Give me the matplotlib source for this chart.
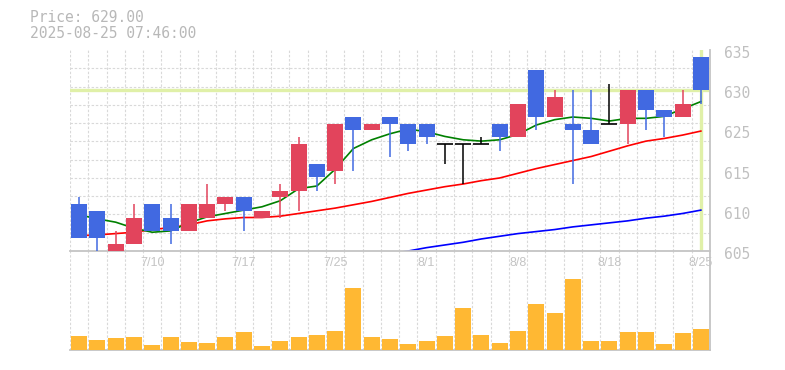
import matplotlib
matplotlib.use("Agg")
import matplotlib.pyplot as plt
import matplotlib.transforms as mtransforms
import numpy as np

# trading days shown (2025)
dates = ["7/4", "7/7", "7/8", "7/9", "7/10", "7/11", "7/14", "7/15", "7/16", "7/17",
         "7/18", "7/22", "7/23", "7/24", "7/25", "7/28", "7/29", "7/30", "7/31", "8/1",
         "8/4", "8/5", "8/6", "8/7", "8/8", "8/12", "8/13", "8/14", "8/15", "8/18",
         "8/19", "8/20", "8/21", "8/22", "8/25"]

opens  = [612, 611, 605, 606, 612, 610, 608, 610, 612, 613, 610, 613, 614, 618, 617, 625, 623, 625,
          624, 624, 621, 621, 621, 624, 622, 632, 625, 624, 623, 624, 624, 629, 626, 625, 634]
highs  = [613, 611, 608, 612, 612, 612, 612, 615, 613, 613, 611, 615, 622, 618, 624, 625, 624, 625,
          624, 624, 621, 621, 622, 624, 627, 632, 629, 629, 629, 630, 629, 629, 626, 629, 634]
lows   = [607, 605, 605, 606, 608, 606, 608, 610, 611, 608, 610, 610, 611, 614, 615, 617, 623, 619,
          620, 621, 618, 615, 621, 620, 622, 623, 625, 615, 621, 624, 621, 623, 622, 625, 627]
closes = [607, 607, 606, 610, 608, 608, 612, 612, 613, 611, 611, 614, 621, 616, 624, 623, 624, 624,
          621, 622, 621, 621, 621, 622, 627, 625, 628, 623, 621, 624, 629, 626, 625, 627, 629]

volumes = [1400, 1000, 1200, 1300, 500, 1300, 800, 700, 1300, 1800, 400, 900, 1300, 1500, 1900,
           6200, 1300, 1100, 600, 900, 1400, 4200, 1500, 700, 1900, 4600, 3700, 7100, 900, 900,
           1800, 1800, 600, 1700, 2100]

ma_short = [610.4, 609.8, 609.3, 608.4, 607.8, 608.0, 609.2, 610.1, 610.6, 611.1, 611.6, 612.5,
            614.3, 614.7, 617.2, 620.3, 621.6, 622.5, 623.2, 622.8, 622.1, 621.6, 621.4, 621.6,
            622.4, 623.8, 624.6, 625.0, 624.8, 624.4, 624.8, 624.8, 625.1, 626.2, 627.3]
ma_mid = [607.3, 607.4, 607.6, 607.8, 608.2, 608.5, 608.9, 609.5, 609.8, 610.0, 610.0, 610.2,
          610.6, 611.0, 611.4, 611.9, 612.4, 613.0, 613.6, 614.1, 614.6, 615.0, 615.5, 615.9,
          616.6, 617.3, 617.9, 618.5, 619.1, 619.9, 620.7, 621.4, 621.8, 622.3, 622.9]
ma_long = [np.nan] * 17 + [604.6, 605.0, 605.5, 605.9, 606.3, 606.8, 607.2, 607.6, 607.9, 608.2,
                           608.6, 608.9, 609.2, 609.5, 609.9, 610.2, 610.6, 611.1]

tick_idx = [4, 9, 14, 19, 24, 29, 34]
ytick_vals = [635, 629, 623, 617, 611, 605]
ytick_text = ["635", "630", "625", "615", "610", "605"]
price_now = 629.00
stamp = "2025-08-25 07:46:00"

UP = "#e2445c"
DOWN = "#4169e1"
GRID = "#d9d9d9"
SPINE = "#c4c4c4"

fig = plt.figure(figsize=(7.85, 3.7), dpi=100)
ax = fig.add_axes([70 / 785, 1 - 251 / 370, 640 / 785, 201 / 370])
axv = fig.add_axes([70 / 785, 1 - 349.5 / 370, 640 / 785, 98.5 / 370], sharex=ax)
ax.set_zorder(3)  # date labels sit over the volume panel

x = np.arange(len(dates))

for a in (ax, axv):
    a.set_xticks(np.arange(-0.5, len(dates), 1), minor=True)
    a.grid(which="minor", axis="x", color=GRID, linestyle=(0, (2.2, 1.6)), linewidth=0.8)
    for s in ("left", "top"):
        a.spines[s].set_visible(False)
    for s in ("bottom", "right"):
        a.spines[s].set_color(SPINE)
        a.spines[s].set_linewidth(1.3)
    a.tick_params(which="both", length=0)
    a.set_axisbelow(True)

# price panel
ax.set_xlim(-0.5, len(dates) - 0.5)
ax.set_ylim(605, 635)
ax.set_yticks(np.linspace(605, 635, 12), minor=True)
ax.grid(which="minor", axis="y", color=GRID, linestyle=(0, (2.2, 1.6)), linewidth=0.8)

ax.axhline(price_now, color="#e0f0a8", linewidth=2.4, zorder=1)
ax.axvline(x[-1], color="#e0f0a8", linewidth=2.4, zorder=1)

ax.plot(x, ma_long, color="blue", linewidth=1.2, zorder=2)
ax.plot(x, ma_mid, color="red", linewidth=1.2, zorder=2)
ax.plot(x, ma_short, color="green", linewidth=1.2, zorder=2)

o = np.array(opens)
c = np.array(closes)
cols = np.where(c > o, UP, np.where(c < o, DOWN, "black"))
ax.vlines(x, lows, highs, colors=cols, linewidth=1.1, zorder=3)
body = c != o
ax.bar(x[body], np.abs(c - o)[body], bottom=np.minimum(o, c)[body], width=0.875,
       color=cols[body], zorder=4)
doji = ~body
ax.hlines(o[doji], x[doji] - 0.4375, x[doji] + 0.4375, colors="black", linewidth=1.2, zorder=4)

ax.set_xticks(tick_idx)
ax.set_xticklabels([dates[i] for i in tick_idx], family="Liberation Sans", fontsize=9,
                   color="#c4c4c4")
ax.tick_params(axis="x", pad=4, labelbottom=True)
ax.yaxis.tick_right()
ax.set_yticks(ytick_vals)
ax.set_yticklabels(ytick_text, family="DejaVu Sans Mono", fontsize=10.5, color="#c0c0c0")
ax.tick_params(axis="y", pad=10)
shift = mtransforms.ScaledTranslation(0, -2 / 100, fig.dpi_scale_trans)
for lab in ax.get_yticklabels():
    lab.set_transform(lab.get_transform() + shift)

# volume panel
axv.bar(x, volumes, width=0.875, color="#ffb833", zorder=3)
axv.set_ylim(0, 9850)
axv.set_yticks([])
axv.tick_params(axis="x", labelbottom=False)

fig.text(30 / 785, 1 - 18 / 370, "Price: %.2f" % price_now, family="DejaVu Sans Mono",
         fontsize=10.5, color="#b8b8b8", va="center")
fig.text(30 / 785, 1 - 33 / 370, stamp, family="DejaVu Sans Mono",
         fontsize=10.5, color="#b8b8b8", va="center")

fig.savefig("out.png", dpi=100)
